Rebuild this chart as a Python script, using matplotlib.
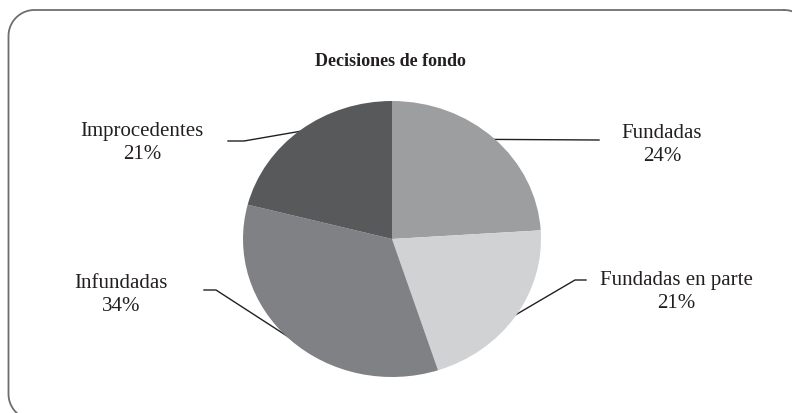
#!/usr/bin/env python3
"""
plot.py — produces out.png

Pie chart "Decisiones de fondo": share of decisions on the merits by
outcome, with leader lines to the labels, inside a rounded frame.
"""
import numpy as np
import matplotlib
matplotlib.use("Agg")
import matplotlib.pyplot as plt

TITLE = "Decisiones de fondo"
CATEGORIES = ["Fundadas", "Fundadas en parte", "Infundadas", "Improcedentes"]
SHARES = [24, 21, 34, 21]
COLORS = ["#9d9ea0", "#d1d2d4", "#808184", "#58595b"]

W, H = 792, 414
# pie box in pixels (left, top, right, bottom)
PIE_BOX = (243, 102, 541, 378)
# frame box in pixels (runs off the right and bottom edges)
FRAME_BOX = (8.5, 11, 810, 421)
FRAME_R = 26

# label centre and leader path (elbow, end) in pixels, per category
LABEL_POS = {
    "Fundadas":          (662, 145),
    "Fundadas en parte": (676, 292),
    "Infundadas":        (121, 295),
    "Improcedentes":     (142, 143),
}
LEADER = {
    "Fundadas":          [(599, 141)],
    "Fundadas en parte": [(575, 281), (586, 281)],
    "Infundadas":        [(216, 291), (204, 291)],
    "Improcedentes":     [(244, 142), (228, 142)],
}


def rounded_rect(x0, y0, x1, y1, r, n=20):
    """Closed outline of a rounded rectangle (y pointing down)."""
    pts = []
    corners = [(x1 - r, y0 + r, -90, 0), (x1 - r, y1 - r, 0, 90),
               (x0 + r, y1 - r, 90, 180), (x0 + r, y0 + r, 180, 270)]
    for cx, cy, a0, a1 in corners:
        a = np.deg2rad(np.linspace(a0, a1, n))
        pts.extend(zip(cx + r * np.cos(a), cy + r * np.sin(a)))
    pts.append(pts[0])
    return np.array(pts)


plt.rcParams["font.family"] = ["Liberation Serif", "DejaVu Serif"]

fig = plt.figure(figsize=(W / 100, H / 100), dpi=100)
ov = fig.add_axes([0, 0, 1, 1])
ov.set_xlim(0, W)
ov.set_ylim(H, 0)
ov.axis("off")

outline = rounded_rect(*FRAME_BOX, FRAME_R)
ov.plot(outline[:, 0], outline[:, 1], color="#6d6e70", linewidth=1.3)

l, t, r, b = PIE_BOX
axp = fig.add_axes([l / W, 1 - b / H, (r - l) / W, (b - t) / H])
wedges, _ = axp.pie(SHARES, colors=COLORS, startangle=90, counterclock=False,
                    radius=1.0, wedgeprops=dict(linewidth=0))
axp.set_aspect("auto")
axp.set_xlim(-1, 1)
axp.set_ylim(-1, 1)

to_ov = axp.transData + ov.transData.inverted()
for w, cat, pct in zip(wedges, CATEGORIES, SHARES):
    mid = np.deg2rad((w.theta1 + w.theta2) / 2)
    x0, y0 = to_ov.transform((0.99 * np.cos(mid), 0.99 * np.sin(mid)))
    pts = [(x0, y0)] + LEADER[cat]
    ov.plot([p[0] for p in pts], [p[1] for p in pts],
            color="#231f20", linewidth=1.0)
    lx, ly = LABEL_POS[cat]
    ov.text(lx, ly, f"{cat}\n{pct}%", ha="center", va="center",
            fontsize=15, color="#231f20", linespacing=1.3)

ov.text(390, 61, TITLE, ha="center", va="center", fontsize=13,
        fontweight="bold", color="#231f20")

fig.savefig("out.png", dpi=100)
